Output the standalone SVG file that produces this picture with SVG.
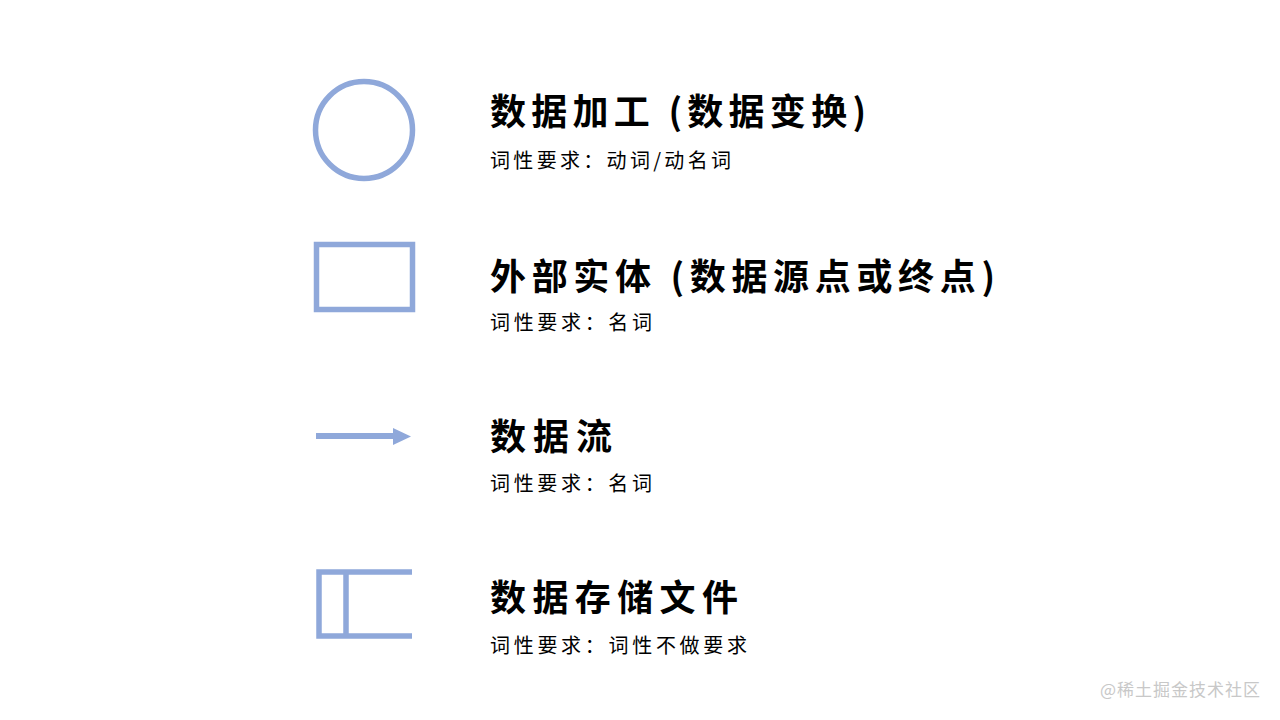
<svg xmlns="http://www.w3.org/2000/svg" width="1280" height="720" viewBox="0 0 1280 720">
<style>
.sym{fill:none;stroke:#8FA8DA;stroke-width:5.5}
.title{font-family:"Noto Sans CJK SC","Noto Sans",sans-serif;font-size:36px;font-weight:700;fill:#000}
.sub{font-family:"Noto Sans CJK SC","Noto Sans",sans-serif;font-size:20px;fill:#000}
.wm{font-family:"Noto Sans CJK SC","Noto Sans",sans-serif;font-size:17px;fill:#c8c8c8}
</style>
<rect width="1280" height="720" fill="#fff"/>
<g id="process">
<circle class="sym" cx="364" cy="130" r="48.5"/>
<text class="title" x="490" y="125" textLength="376" lengthAdjust="spacing">数据加工 (数据变换)</text>
<text class="sub" x="490" y="168" textLength="241" lengthAdjust="spacing">词性要求：动词/动名词</text>
</g>
<g id="entity">
<rect class="sym" x="316.5" y="244.5" width="96" height="65"/>
<text class="title" x="490" y="290" textLength="505" lengthAdjust="spacing">外部实体 (数据源点或终点)</text>
<text class="sub" x="490" y="330" textLength="162" lengthAdjust="spacing">词性要求：名词</text>
</g>
<g id="dataflow">
<line x1="316" y1="436" x2="396" y2="436" stroke="#8FA8DA" stroke-width="6"/>
<polygon points="393,428 411,436.5 393,445" fill="#8FA8DA"/>
<text class="title" x="490" y="450" textLength="122" lengthAdjust="spacing">数据流</text>
<text class="sub" x="490" y="491" textLength="162" lengthAdjust="spacing">词性要求：名词</text>
</g>
<g id="datastore">
<path class="sym" d="M412,572 H319 V636 H412 M346,572 V636"/>
<text class="title" x="490" y="611" textLength="248" lengthAdjust="spacing">数据存储文件</text>
<text class="sub" x="490" y="653" textLength="257" lengthAdjust="spacing">词性要求：词性不做要求</text>
</g>
<text class="wm" x="1100" y="696" textLength="160" lengthAdjust="spacing">@稀土掘金技术社区</text>
</svg>
